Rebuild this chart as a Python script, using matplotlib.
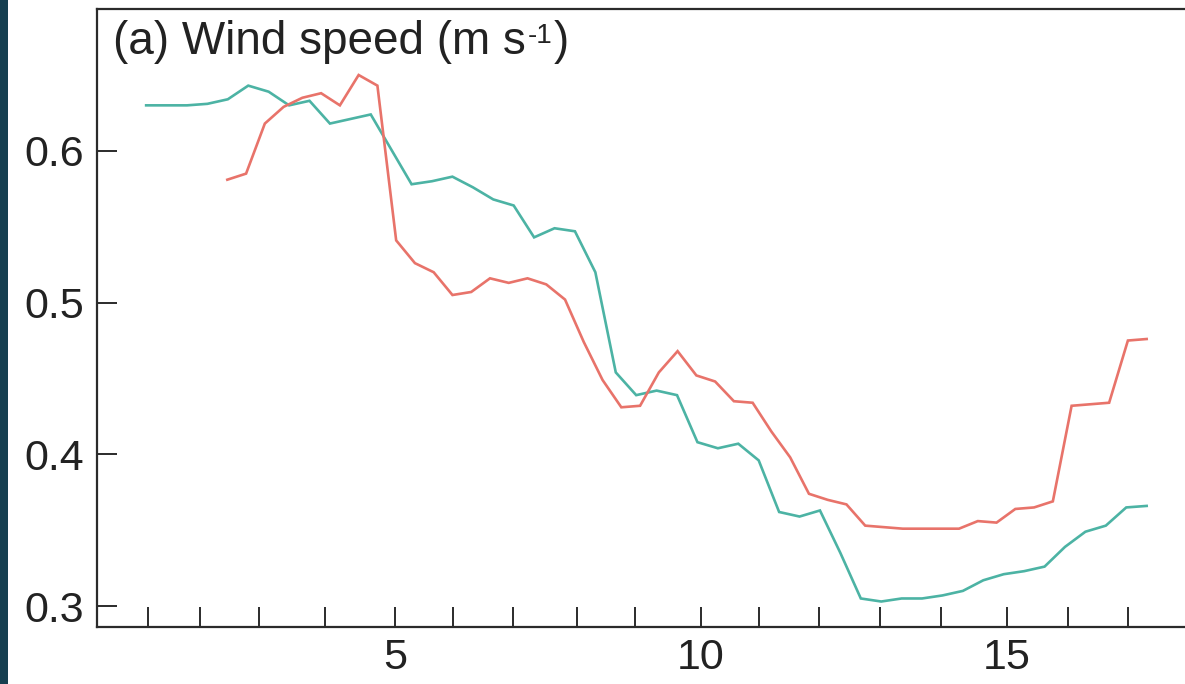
import numpy as np
import matplotlib
matplotlib.use("Agg")
import matplotlib.pyplot as plt
from matplotlib.patches import Rectangle

plt.rcParams['font.family'] = ['Liberation Sans', 'DejaVu Sans']

# Sample positions (evenly spaced, 50 samples per series)
x_teal = np.linspace(0.934, 17.28, 50)
x_red = np.linspace(2.26, 17.28, 50)

teal_values = [
    0.630, 0.630, 0.630, 0.631, 0.634, 0.643, 0.639, 0.630, 0.633, 0.618,
    0.621, 0.624, 0.601, 0.578, 0.580, 0.583, 0.576, 0.568, 0.564, 0.543,
    0.549, 0.547, 0.520, 0.454, 0.439, 0.442, 0.439, 0.408, 0.404, 0.407,
    0.396, 0.362, 0.359, 0.363, 0.335, 0.305, 0.303, 0.305, 0.305, 0.307,
    0.310, 0.317, 0.321, 0.323, 0.326, 0.339, 0.349, 0.353, 0.365, 0.366,
]

red_values = [
    0.581, 0.585, 0.618, 0.629, 0.635, 0.638, 0.630, 0.650, 0.643, 0.541,
    0.526, 0.520, 0.505, 0.507, 0.516, 0.513, 0.516, 0.512, 0.502, 0.474,
    0.449, 0.431, 0.432, 0.454, 0.468, 0.452, 0.448, 0.435, 0.434, 0.415,
    0.398, 0.374, 0.370, 0.367, 0.353, 0.352, 0.351, 0.351, 0.351, 0.351,
    0.356, 0.355, 0.364, 0.365, 0.369, 0.432, 0.433, 0.434, 0.475, 0.476,
]

major_xticks = [5, 10, 15]
minor_xticks = [0.97, 1.82, 2.77, 3.85, 5.95, 6.92, 7.97, 8.92,
                10.95, 11.92, 12.93, 13.92, 16.0, 16.98]
yticks = [0.3, 0.4, 0.5, 0.6]
ytick_labels = ["0.3", "0.4", "0.5", "0.6"]

teal_color = "#4cb3a4"
red_color = "#e8736a"
spine_color = "#2b2b2b"
text_color = "#222222"

fig = plt.figure(figsize=(11.85, 6.84), dpi=100)
fig.patch.set_facecolor("white")
# dark band along the left edge
fig.patches.append(Rectangle((0, 0), 8 / 1185, 1, transform=fig.transFigure,
                             facecolor="#163f50", edgecolor="none", zorder=0))

ax = fig.add_axes([97 / 1185, 1 - 627 / 684, 1 - 97 / 1185 + 0.01, (627 - 9) / 684])

ax.plot(x_teal, teal_values, color=teal_color, lw=1.9, solid_joinstyle="miter")
ax.plot(x_red, red_values, color=red_color, lw=1.9, solid_joinstyle="miter")

ax.set_xlim(0.131, 18.1)
ax.set_ylim(0.2862, 0.6935)

ax.set_xticks(major_xticks)
ax.set_xticklabels([str(v) for v in major_xticks])
ax.set_xticks(minor_xticks, minor=True)
ax.set_yticks(yticks)
ax.set_yticklabels(ytick_labels)

ax.tick_params(axis="both", which="both", direction="in", length=14.5, width=1.4,
               color=spine_color, labelsize=31, labelcolor=text_color)
ax.tick_params(axis="x", which="both", pad=8, top=False)
ax.tick_params(axis="y", which="both", pad=9, right=False)

for side in ["left", "bottom", "top"]:
    ax.spines[side].set_linewidth(1.6)
    ax.spines[side].set_color(spine_color)
ax.spines["right"].set_visible(False)

# panel label with a plain-hyphen superscript unit
title_main = ax.text(0.015, 0.927, "(a) Wind speed (m s", transform=ax.transAxes,
                     ha="left", va="baseline", fontsize=33, color=text_color)
title_sup = ax.annotate("-1", xy=(1, 0), xycoords=title_main, xytext=(1, 15),
                        textcoords="offset points", ha="left", va="baseline",
                        fontsize=20, color=text_color)
ax.annotate(")", xy=(1, 0), xycoords=(title_sup, title_main), xytext=(1, 0),
            textcoords="offset points", ha="left", va="bottom",
            fontsize=33, color=text_color)

fig.savefig("out.png", dpi=100)
